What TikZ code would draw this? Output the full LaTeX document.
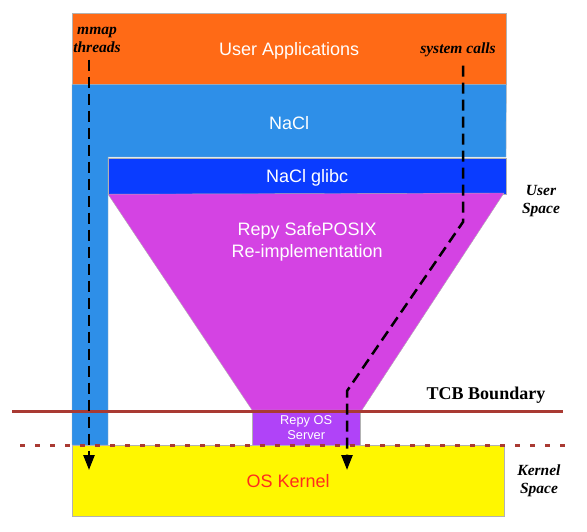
\documentclass[tikz,border=0pt]{standalone}
\usepackage{fontspec}
\setmainfont{Liberation Sans}
\newfontfamily\notefont{Liberation Serif}
\usepackage{tikz}
\usetikzlibrary{positioning, arrows.meta}
\definecolor{appsorange}{HTML}{FF6A16}
\definecolor{naclblue}{HTML}{2E8FE8}
\definecolor{glibcblue}{HTML}{0A3CFF}
\definecolor{repypink}{HTML}{D443E3}
\definecolor{serverpurple}{HTML}{B043F8}
\definecolor{kernelyellow}{HTML}{FFF700}
\definecolor{tcbred}{HTML}{A93A33}
\definecolor{kernelred}{HTML}{FF2D1C}
\newcommand{\lowered}[2]{\raisebox{-#1}[\height][\depth]{#2}}

\begin{document}
\begin{tikzpicture}[x=1pt,y=-1pt]
  \tikzstyle{layer}=[draw=gray!60, line width=0.4pt, inner sep=0pt, text=white,
    font=\fontsize{18}{22}\selectfont, align=center]
  \tikzstyle{note}=[font=\notefont\bfseries\itshape\fontsize{15.5}{18.5}\selectfont, align=center]
  \tikzstyle{callpath}=[line width=2.5pt, dash pattern=on 11pt off 6pt,
    -{Triangle[width=11pt,length=15pt]}]
  \useasboundingbox (0,0) rectangle (587,531);

  % layers, top to bottom
  \node[layer, fill=appsorange, minimum width=434pt, minimum height=71pt, anchor=north west] (apps) at (72,13) {\lowered{2pt}{User Applications}};
  \fill[naclblue, draw=gray!60, line width=0.4pt] (apps.south west) -- (apps.south east) -- (506,157) -- (108,157) -- (108,445) -- (72,445) -- cycle;
  \node[layer, draw=none, minimum width=434pt, minimum height=73pt, below=0pt of apps] (nacl) {\lowered{2pt}{NaCl}};
  \node[layer, fill=kernelyellow, minimum width=432pt, minimum height=71pt, anchor=north west, text=kernelred] (kernel) at (72,445) {OS Kernel};
  \node[layer, fill=glibcblue, minimum width=398pt, minimum height=36pt, below left=0pt of nacl.south east] (glibc) {\lowered{2pt}{NaCl glibc}};

  % the funnel
  \fill[repypink, draw=gray!60, line width=0.4pt] (glibc.south west) -- (504,193) -- (362,410) -- (252,410) -- cycle;
  \node[layer, draw=none, anchor=north, yshift=-28pt] (safeposix) at (glibc.south) {Repy SafePOSIX\\Re-implementation};
  \node[layer, fill=serverpurple, minimum width=108pt, minimum height=35pt, anchor=south west,
    font=\fontsize{12.8}{15}\selectfont] (server) at (252,445) {Repy OS\\Server};

  % boundaries
  \coordinate (tcbL) at (12,411);
  \coordinate (tcbR) at (563,411);
  \draw[tcbred, line width=3pt] (tcbL) -- (tcbR);
  \node[font=\notefont\bfseries\fontsize{18}{21}\selectfont, anchor=south, inner sep=2pt] (tcb) at (486,406) {TCB Boundary};
  \coordinate (userL) at (20,445.5);
  \coordinate (userR) at (566,445.5);
  \draw[tcbred, line width=3pt, dash pattern=on 5pt off 10pt] (userL) -- (userR);

  % calls going down
  \node[note] (mmap) at (97,40) {mmap\\threads};
  \node[note] (syscalls) at (458,50) {system calls};
  \coordinate (mmapend) at (89,470);
  \coordinate (callbend) at (463,222);
  \coordinate (calljoin) at (347,391);
  \coordinate (callend) at (347,470);
  \draw[callpath] (mmap.south -| mmapend) ++(0,3) -- (mmapend);
  \draw[callpath] (syscalls.south -| callbend) ++(0,5) -- (callbend) -- (calljoin) -- (callend);

  \node[note] (userspace) at (541,201) {User\\Space};
  \node[note] (kernelspace) at (539,481) {Kernel\\Space};
\end{tikzpicture}
\end{document}
